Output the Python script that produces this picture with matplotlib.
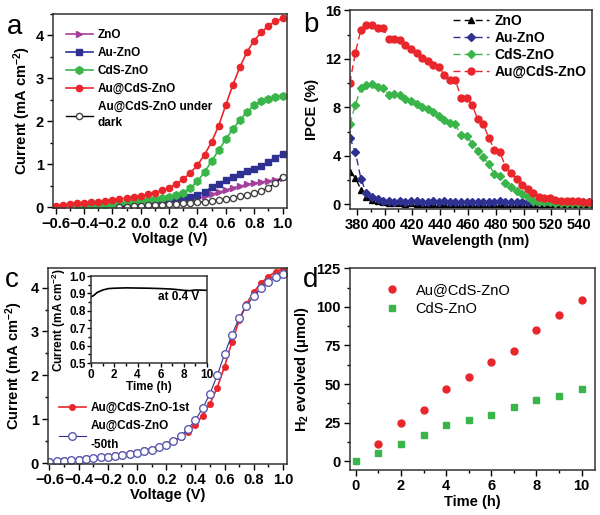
import numpy as np
import matplotlib
matplotlib.use("Agg")
import matplotlib.pyplot as plt
from matplotlib.ticker import MultipleLocator

plt.rcParams["font.family"] = ["Liberation Sans", "DejaVu Sans"]
plt.rcParams["font.weight"] = "bold"
plt.rcParams["axes.labelweight"] = "bold"
plt.rcParams["mathtext.fontset"] = "custom"
plt.rcParams["mathtext.rm"] = "Liberation Sans:bold"
plt.rcParams["mathtext.bf"] = "Liberation Sans:bold"
plt.rcParams["mathtext.default"] = "bf"

#%% dados (a) J-V
v_a = [-0.60, -0.55, -0.50, -0.45, -0.40, -0.35, -0.30, -0.25, -0.20, -0.15, -0.10,
       -0.05, 0.00, 0.05, 0.10, 0.15, 0.20, 0.25, 0.30, 0.35, 0.40, 0.45, 0.50,
       0.55, 0.60, 0.65, 0.70, 0.75, 0.80, 0.85, 0.90, 0.95, 1.00]
j_aucds = [0.03, 0.05, 0.07, 0.09, 0.10, 0.12, 0.13, 0.15, 0.17, 0.19, 0.21,
           0.24, 0.27, 0.30, 0.34, 0.39, 0.45, 0.54, 0.65, 0.80, 0.98, 1.22, 1.52,
           1.90, 2.38, 2.85, 3.27, 3.62, 3.88, 4.07, 4.22, 4.33, 4.40]
v_cds = v_a[3:]
j_cds = [0.02, 0.03, 0.04, 0.05, 0.06, 0.08, 0.09, 0.11, 0.13, 0.15, 0.17,
         0.19, 0.21, 0.24, 0.28, 0.34, 0.45, 0.60, 0.82, 1.07, 1.33, 1.58,
         1.82, 2.03, 2.22, 2.37, 2.47, 2.53, 2.57, 2.58]
v_au = v_a[9:]
j_au = [0.02, 0.04, 0.06, 0.08, 0.10, 0.12, 0.14, 0.16, 0.18, 0.21, 0.24,
        0.28, 0.36, 0.46, 0.55, 0.63, 0.71, 0.78, 0.84, 0.90, 0.97, 1.05,
        1.14, 1.25]
j_zno = [0.01, 0.02, 0.04, 0.06, 0.07, 0.09, 0.10, 0.12, 0.14, 0.16, 0.18,
         0.21, 0.25, 0.30, 0.35, 0.40, 0.45, 0.49, 0.53, 0.56, 0.59, 0.61,
         0.64, 0.67]
j_dark = [0.00, 0.01, 0.02, 0.03, 0.04, 0.05, 0.06, 0.07, 0.08, 0.09, 0.10,
          0.11, 0.13, 0.15, 0.17, 0.19, 0.22, 0.25, 0.29, 0.33, 0.38, 0.45,
          0.56, 0.70]

#%% dados (b) IPCE
wl = [375, 379, 383, 387, 391, 395, 399, 403, 407, 411, 415, 419, 423, 427, 431,
      435, 439, 443, 447, 451, 455, 459, 463, 467, 471, 475, 479, 483, 487, 491,
      495, 499, 503, 507, 511, 515, 519, 523, 527, 531, 535, 539, 543, 547]
ipce_aucds = [10.0, 12.5, 14.4, 14.8, 14.75, 14.5, 14.5, 13.6, 13.6, 13.55, 13.1,
              12.8, 12.45, 12.1, 11.8, 11.5, 11.3, 10.7, 10.25, 10.25, 8.8, 8.8,
              8.2, 7.05, 6.6, 5.5, 4.5, 4.3, 3.1, 2.6, 2.1, 1.55, 1.25, 0.9, 0.63,
              0.5, 0.5, 0.36, 0.3, 0.3, 0.25, 0.25, 0.2, 0.22]
ipce_cds = [6.6, 8.2, 9.6, 9.8, 9.9, 9.7, 9.6, 9.05, 9.1, 9.05, 8.7, 8.5, 8.3,
            8.05, 7.85, 7.65, 7.3, 6.95, 6.7, 6.6, 5.7, 5.65, 5.0, 4.4, 3.9, 3.3,
            2.5, 2.35, 1.75, 1.45, 1.1, 0.85, 0.6, 0.3, 0.2, 0.18, 0.15, 0.12,
            0.12, 0.1, 0.12, 0.1, 0.12, 0.1]
ipce_au = [5.5, 4.3, 2.1, 0.9, 0.6, 0.45, 0.3, 0.25, 0.22, 0.28, 0.2, 0.25, 0.3,
           0.2, 0.22, 0.3, 0.2, 0.25, 0.2, 0.22, 0.18, 0.2, 0.15, 0.18, 0.2,
           0.15, 0.2, 0.25, 0.2, 0.18, 0.2, 0.22, 0.15, 0.2, 0.18, 0.2, 0.15,
           0.2, 0.18, 0.2, 0.22, 0.18, 0.2, 0.18]
ipce_zno = [2.7, 2.2, 1.2, 0.6, 0.35, 0.25, 0.15, 0.1, 0.08, 0.1, 0.06, 0.08,
            0.06, 0.05, 0.06, 0.05, 0.06, 0.05, 0.04, 0.05, 0.05, 0.04, 0.05,
            0.04, 0.05, 0.04, 0.05, 0.04, 0.05, 0.04, 0.05, 0.04, 0.05, 0.04,
            0.05, 0.04, 0.05, 0.04, 0.05, 0.04, 0.05, 0.04, 0.05, 0.04]

#%% dados (c) estabilidade
j_1st = [0.05, 0.06, 0.07, 0.08, 0.10, 0.11, 0.12, 0.14, 0.16, 0.18, 0.20,
         0.23, 0.26, 0.29, 0.33, 0.37, 0.43, 0.50, 0.60, 0.72, 0.88, 1.08, 1.35,
         1.72, 2.20, 2.75, 3.25, 3.62, 3.90, 4.10, 4.25, 4.36, 4.43]
j_50th = [0.03, 0.05, 0.06, 0.07, 0.08, 0.10, 0.11, 0.13, 0.15, 0.17, 0.19,
          0.21, 0.24, 0.27, 0.31, 0.36, 0.42, 0.50, 0.62, 0.78, 0.98, 1.25, 1.58,
          2.00, 2.48, 2.92, 3.30, 3.58, 3.80, 3.98, 4.12, 4.23, 4.31]
t_in = [0, 0.25, 0.5, 1, 1.5, 2, 3, 4, 5, 6, 7, 8, 8.5, 9, 10]
j_in = [0.88, 0.89, 0.905, 0.92, 0.928, 0.93, 0.932, 0.931, 0.93, 0.928,
        0.925, 0.918, 0.916, 0.92, 0.918]

#%% dados (d) H2
t_h2 = [0, 1, 2, 3, 4, 5, 6, 7, 8, 9, 10]
h2_aucds = [0, 11.2, 24.6, 33.5, 46.8, 54.8, 64.3, 71.7, 85.3, 95.0, 104.5]
h2_cds = [0, 5.6, 11.2, 16.8, 23.5, 26.6, 30.2, 35.0, 40.0, 42.3, 46.8]

RED = "#e8262b"
GREEN = "#39b54a"
BLUE = "#2e3192"
MAG = "#a4409c"

fig = plt.figure(figsize=(6, 5.15), dpi=100)


def estilo(ax, ls=10.5):
    for s in ax.spines.values():
        s.set_linewidth(1.1)
        s.set_color("#333333")
    ax.tick_params(which="both", direction="out", labelsize=ls, width=1, pad=2.5)
    ax.tick_params(which="major", length=4)
    ax.tick_params(which="minor", length=2.5)
    for lb in ax.get_xticklabels() + ax.get_yticklabels():
        lb.set_fontweight("bold")


#%% (a)
ax = fig.add_axes([0.088, 0.596, 0.39, 0.377])
kw = dict(lw=1.2, ms=4.5)
ax.plot(v_au, j_zno, marker=">", color=MAG, label="ZnO", **kw)
ax.plot(v_au, j_au, marker="s", color=BLUE, label="Au-ZnO", **kw)
ax.plot(v_cds, j_cds, marker="h", color=GREEN, label="CdS-ZnO", lw=1.2, ms=5.5)
ax.plot(v_a, j_aucds, marker="o", color=RED, label="Au@CdS-ZnO", **kw)
ax.plot(v_au, j_dark, marker="o", color="black", mfc="white", mec="#444444",
        label="Au@CdS-ZnO under\ndark", lw=1.0, ms=4.5)
ax.set_xlim(-0.62, 1.03)
ax.set_ylim(-0.02, 4.5)
ax.xaxis.set_major_locator(MultipleLocator(0.2))
ax.xaxis.set_minor_locator(MultipleLocator(0.1))
ax.yaxis.set_major_locator(MultipleLocator(1))
ax.yaxis.set_minor_locator(MultipleLocator(0.5))
ax.set_xlabel("Voltage (V)", fontsize=10.5, labelpad=1)
ax.set_ylabel("Current (mA cm$^{-2}$)", fontsize=10.5, labelpad=2)
leg = ax.legend(loc="upper left", bbox_to_anchor=(0.01, 0.975), frameon=False,
                handlelength=2.3, handletextpad=0.4, labelspacing=0.5,
                prop={"weight": "bold", "size": 8.5})
for t in leg.get_texts():
    t.set_linespacing(1.5)
estilo(ax)
fig.text(0.012, 0.934, "a", fontsize=20, fontweight="normal")

#%% (b)
ax = fig.add_axes([0.583, 0.594, 0.403, 0.386])
dash = (0, (5, 3))
ax.plot(wl, ipce_zno, marker="^", color="black", ls=dash, lw=1, ms=4.5, label="ZnO")
ax.plot(wl, ipce_au, marker="D", color=BLUE, ls=dash, lw=1, ms=3.8, label="Au-ZnO")
ax.plot(wl, ipce_cds, marker="D", color=GREEN, ls=dash, lw=1, ms=4.5, label="CdS-ZnO")
ax.plot(wl, ipce_aucds, marker="o", color=RED, ls=dash, lw=1, ms=5, label="Au@CdS-ZnO")
ax.set_xlim(375, 549)
ax.set_ylim(-0.4, 16)
ax.xaxis.set_major_locator(MultipleLocator(20))
ax.xaxis.set_minor_locator(MultipleLocator(10))
ax.yaxis.set_major_locator(MultipleLocator(4))
ax.yaxis.set_minor_locator(MultipleLocator(2))
ax.set_xlabel("Wavelength (nm)", fontsize=10.5, labelpad=1)
ax.set_ylabel("IPCE (%)", fontsize=10.5, labelpad=4)
ax.legend(loc="upper right", bbox_to_anchor=(1.03, 1.045), frameon=False,
          handlelength=2.6, handletextpad=0.4, labelspacing=0.22,
          prop={"weight": "bold", "size": 10})
estilo(ax)
fig.text(0.505, 0.938, "b", fontsize=20, fontweight="normal")

#%% (c)
ax = fig.add_axes([0.08, 0.099, 0.398, 0.381])
ax.plot(v_a, j_1st, marker="o", color=RED, lw=1.2, ms=4, label="Au@CdS-ZnO-1st")
ax.plot(v_a, j_50th, marker="o", color=BLUE, mfc="white", mec="#5a5ab0", lw=0.8,
        ms=5.5, label="Au@CdS-ZnO\n-50th")
ax.set_xlim(-0.61, 1.027)
ax.set_ylim(-0.02, 4.45)
ax.xaxis.set_major_locator(MultipleLocator(0.2))
ax.xaxis.set_minor_locator(MultipleLocator(0.1))
ax.yaxis.set_major_locator(MultipleLocator(1))
ax.yaxis.set_minor_locator(MultipleLocator(0.5))
ax.set_xlabel("Voltage (V)", fontsize=10.5, labelpad=1)
ax.set_ylabel("Current (mA cm$^{-2}$)", fontsize=10.5, labelpad=4)
leg = ax.legend(loc="upper left", bbox_to_anchor=(0.0, 0.37), frameon=False,
                handlelength=2.3, handletextpad=0.4, labelspacing=0.5,
                prop={"weight": "bold", "size": 8.5})
for t in leg.get_texts():
    t.set_linespacing(1.8)
estilo(ax)
fig.text(0.008, 0.443, "c", fontsize=20, fontweight="normal")

axi = fig.add_axes([0.152, 0.295, 0.193, 0.169])
axi.plot(t_in, j_in, color="black", lw=1.2)
axi.set_xlim(0, 10)
axi.set_ylim(0.5, 1.0)
axi.xaxis.set_major_locator(MultipleLocator(2))
axi.xaxis.set_minor_locator(MultipleLocator(1))
axi.yaxis.set_major_locator(MultipleLocator(0.1))
axi.yaxis.set_minor_locator(MultipleLocator(0.05))
axi.set_xlabel("Time (h)", fontsize=8.5, labelpad=0)
axi.set_ylabel("Current (mA cm$^{-2}$)", fontsize=8.5, labelpad=1)
axi.text(0.93, 0.72, "at 0.4 V", transform=axi.transAxes, ha="right",
         fontsize=8.5, fontweight="bold")
estilo(axi, ls=8.5)
axi.tick_params(pad=1)
axi.tick_params(which="major", length=3)
axi.tick_params(which="minor", length=2)

#%% (d)
ax = fig.add_axes([0.583, 0.087, 0.408, 0.392])
ax.plot(t_h2[1:], h2_aucds[1:], "o", color=RED, ms=5, label="Au@CdS-ZnO")
ax.plot(t_h2, h2_cds, "s", color=GREEN, ms=5, label="CdS-ZnO")
ax.set_xlim(-0.27, 10.58)
ax.set_ylim(-5.8, 125)
ax.xaxis.set_major_locator(MultipleLocator(2))
ax.xaxis.set_minor_locator(MultipleLocator(1))
ax.yaxis.set_major_locator(MultipleLocator(25))
ax.yaxis.set_minor_locator(MultipleLocator(12.5))
ax.set_xlabel("Time (h)", fontsize=10.5, labelpad=1)
ax.set_ylabel("H$_2$ evolved (μmol)", fontsize=10.5, labelpad=4)
ax.legend(loc="upper left", bbox_to_anchor=(0.06, 0.99), frameon=False,
          handletextpad=0.6, labelspacing=0.3,
          prop={"weight": "normal", "size": 10.5})
estilo(ax)
fig.text(0.505, 0.443, "d", fontsize=20, fontweight="normal")

fig.savefig("out.png", dpi=100)
